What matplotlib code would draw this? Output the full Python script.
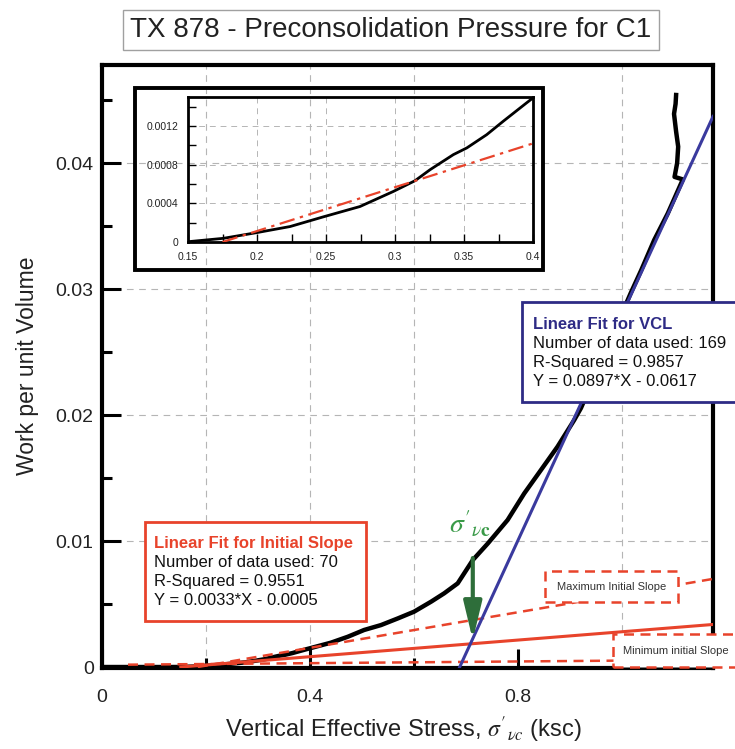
import matplotlib
matplotlib.use("Agg")
import matplotlib.pyplot as plt
from matplotlib.patches import Rectangle
import numpy as np

plt.rcParams["font.family"] = ["Liberation Sans", "DejaVu Sans"]
plt.rcParams["mathtext.fontset"] = "stix"

# ---------------------------------------------------------------------------
# data
# ---------------------------------------------------------------------------
stress = [0.0, 0.02, 0.04, 0.08, 0.12, 0.150, 0.1756, 0.1998, 0.224, 0.248,
          0.2746, 0.2988, 0.3145, 0.3254, 0.3423, 0.352, 0.3664, 0.3785,
          0.3954, 0.440, 0.4725, 0.504, 0.5365, 0.569, 0.600, 0.633, 0.658,
          0.684, 0.713, 0.742, 0.780, 0.812, 0.844, 0.876, 0.908, 0.921,
          1.017, 1.037, 1.062, 1.088, 1.117, 1.101, 1.106, 1.108, 1.104,
          1.100, 1.103, 1.104]
work = [0.0, 0.0, 0.0, 0.0, 0.0, 0.000003, 0.000038, 0.000097, 0.00016,
        0.00026, 0.000367, 0.000523, 0.000634, 0.000748, 0.000904, 0.000973,
        0.00111, 0.00125, 0.00144, 0.00193, 0.0024, 0.00294, 0.00333,
        0.00386, 0.00439, 0.00519, 0.00585, 0.00664, 0.00849, 0.00981,
        0.01167, 0.01378, 0.01563, 0.01749, 0.0196, 0.02055, 0.0297, 0.0315,
        0.0339, 0.0360, 0.0387, 0.0389, 0.0400, 0.0413, 0.0425, 0.0439,
        0.0447, 0.0454]

# fit lines (slope, intercept)
vclFit = (0.0897, -0.0617)
initialFit = (0.0033, -0.0005)
maxFit = (0.00706, -0.0013)
minFit = (0.00034, 0.00017)
minStart = 0.05

# arrow marking sigma'vc
sigmaX = 0.713
arrowTop = 0.00865
arrowTip = 0.00214

insetFitX = [0.175, 0.4]
insetFitY = [0.0, 0.00102]

xMajor = [0, 0.4, 0.8]
xMajorLabels = ["0", "0.4", "0.8"]
xMinor = [0.2, 0.6, 1.0]
yMajor = [0, 0.01, 0.02, 0.03, 0.04]
yMajorLabels = ["0", "0.01", "0.02", "0.03", "0.04"]
yMinor = [0.005, 0.015, 0.025, 0.035, 0.045]
gridX = [0.2, 0.4, 0.6, 1.0]
gridY = [0.01, 0.02, 0.03, 0.04]

insetXMajor = [0.15, 0.2, 0.25, 0.3, 0.35, 0.4]
insetXLabels = ["0.15", "0.2", "0.25", "0.3", "0.35", "0.4"]
insetXMinor = [0.175, 0.225, 0.275, 0.325, 0.375]
insetYMajor = [0, 0.0004, 0.0008, 0.0012]
insetYLabels = ["0", "0.0004", "0.0008", "0.0012"]
insetYMinor = [0.0002, 0.0006, 0.001, 0.0014]
insetGridX = [0.2, 0.25, 0.3, 0.35]
insetGridY = [0.0004, 0.0008, 0.0012]

titleText = "TX 878 - Preconsolidation Pressure for C1"
vclLines = ["Linear Fit for VCL", "Number of data used: 169",
            "R-Squared = 0.9857", "Y = 0.0897*X - 0.0617"]
initLines = ["Linear Fit for Initial Slope", "Number of data used: 70",
             "R-Squared = 0.9551", "Y = 0.0033*X - 0.0005"]

red = "#e8432b"
navy = "#2e2b85"
blue = "#3a3a9e"
green = "#2e6e3a"
gridColor = "#b5b5b5"
xMax = 1.175

# ---------------------------------------------------------------------------
# main axes
# ---------------------------------------------------------------------------
fig = plt.figure(figsize=(7.35, 7.49), dpi=100)
ax = fig.add_axes([0.1388, 0.1081, 0.8313, 0.8051])
ax.set_xlim(0, xMax)
ax.set_ylim(-0.00008, 0.04778)

for gx in gridX:
    ax.axvline(gx, color=gridColor, lw=0.8, ls=(0, (6, 5)), zorder=0)
for gy in gridY:
    ax.axhline(gy, color=gridColor, lw=0.8, ls=(0, (6, 5)), zorder=0)

ax.set_xticks(xMajor)
ax.set_xticklabels(xMajorLabels)
ax.set_xticks(xMinor, minor=True)
ax.set_yticks(yMajor)
ax.set_yticklabels(yMajorLabels)
ax.set_yticks(yMinor, minor=True)
ax.tick_params(which="both", direction="in", width=2.2, colors="black",
               labelcolor="#222222", labelsize=14)
ax.tick_params(which="major", length=14)
ax.tick_params(which="minor", length=7)
ax.tick_params(axis="x", pad=15)
ax.tick_params(axis="y", pad=6)
for spine in ax.spines.values():
    spine.set_linewidth(3)

# data curve
ax.plot(stress, work, color="black", lw=3.2, zorder=3,
        solid_joinstyle="round")


def fitLine(fit, start):
    xs = np.array([start, xMax])
    return xs, fit[0] * xs + fit[1]


xs, ys = fitLine(initialFit, -initialFit[1] / initialFit[0])
ax.plot(xs, ys, color=red, lw=2.2, zorder=4)
xs, ys = fitLine(maxFit, -maxFit[1] / maxFit[0])
ax.plot(xs, ys, color=red, lw=1.8, ls=(0, (4, 2.6)), zorder=4)
xs, ys = fitLine(minFit, minStart)
ax.plot(xs, ys, color=red, lw=1.8, ls=(0, (4, 2.6)), zorder=4)
xs, ys = fitLine(vclFit, -vclFit[1] / vclFit[0])
ax.plot(xs, ys, color=blue, lw=2.2, zorder=4)

ax.annotate("", xy=(sigmaX, arrowTip), xytext=(sigmaX, arrowTop),
            arrowprops=dict(arrowstyle="-|>,head_length=2.3,head_width=0.55",
                            color=green, lw=3, shrinkA=0, shrinkB=0),
            zorder=6)
ax.text(sigmaX - 0.006, arrowTop + 0.0027, r"$\sigma'_{\nu\mathbf{c}}$",
        color="#3a9a48", fontsize=20, ha="center", va="center", zorder=6)

ax.set_xlabel(r"Vertical Effective Stress, $\sigma'_{\nu c}$ (ksc)",
              fontsize=17, color="#222222", va="center")
ax.xaxis.set_label_coords(0.493, -0.103)
ax.set_ylabel("Work per unit Volume", fontsize=16.5, color="#222222",
              va="center")
ax.yaxis.set_label_coords(-0.122, 0.502)

# annotation boxes
ax.add_patch(Rectangle((0.687, 0.441), 0.36, 0.166, transform=ax.transAxes,
                       fc="white", ec=navy, lw=2, zorder=7, clip_on=False))
for i, line in enumerate(vclLines):
    ax.text(0.7054, 0.569 - i * 0.0315, line, transform=ax.transAxes,
            fontsize=12, va="center", ha="left", zorder=8,
            color=navy if i == 0 else "#111111",
            fontweight="bold" if i == 0 else "normal")

ax.add_patch(Rectangle((0.0704, 0.078), 0.3617, 0.164, transform=ax.transAxes,
                       fc="white", ec=red, lw=2, zorder=7, clip_on=False))
for i, line in enumerate(initLines):
    ax.text(0.0856, 0.207 - i * 0.0315, line, transform=ax.transAxes,
            fontsize=12, va="center", ha="left", zorder=8,
            color=red if i == 0 else "#111111",
            fontweight="bold" if i == 0 else "normal")

ax.add_patch(Rectangle((0.725, 0.1095), 0.218, 0.0515, transform=ax.transAxes,
                       fc="white", ec=red, lw=1.8, ls=(0, (4, 2.6)),
                       zorder=7, clip_on=False))
ax.text(0.8347, 0.1343, "Maximum Initial Slope", transform=ax.transAxes,
        fontsize=8, color="#333333", ha="center", va="center", zorder=8)
ax.add_patch(Rectangle((0.836, 0.0025), 0.22, 0.054, transform=ax.transAxes,
                       fc="white", ec=red, lw=1.8, ls=(0, (4, 2.6)),
                       zorder=7, clip_on=False))
ax.text(0.8527, 0.0282, "Minimum initial Slope", transform=ax.transAxes,
        fontsize=8, color="#333333", ha="left", va="center", zorder=8)

# outer frame around the inset
ax.add_patch(Rectangle((0.054, 0.66), 0.668, 0.302, transform=ax.transAxes,
                       fill=False, ec="black", lw=2.8, zorder=5,
                       clip_on=False))

# ---------------------------------------------------------------------------
# inset
# ---------------------------------------------------------------------------
inset = fig.add_axes([0.2558, 0.6769, 0.4694, 0.1936])
inset.set_facecolor("none")
inset.set_xlim(0.15, 0.4)
inset.set_ylim(0, 0.0015)
for gx in insetGridX:
    inset.axvline(gx, color=gridColor, lw=0.7, ls=(0, (6, 5)), zorder=0)
for gy in insetGridY:
    inset.axhline(gy, color=gridColor, lw=0.7, ls=(0, (6, 5)), zorder=0)
inset.plot(stress, work, color="black", lw=2, zorder=3)
inset.plot(insetFitX, insetFitY, color=red, lw=1.6,
           ls=(0, (7, 2.5, 1.5, 2.5)), zorder=4)
inset.set_xticks(insetXMajor)
inset.set_xticklabels(insetXLabels)
inset.set_xticks(insetXMinor, minor=True)
inset.set_yticks(insetYMajor)
inset.set_yticklabels(insetYLabels)
inset.set_yticks(insetYMinor, minor=True)
inset.tick_params(which="both", direction="in", length=6, width=1,
                  labelsize=7.5, labelcolor="#222222", pad=7)
for spine in inset.spines.values():
    spine.set_linewidth(2)

# title
fig.text(0.532, 0.96, titleText, fontsize=20, color="#222222",
         ha="center", va="center",
         bbox=dict(boxstyle="square,pad=0.25", fc="white", ec="#a0a0a0",
                   lw=1))

fig.savefig("out.png", dpi=100)
